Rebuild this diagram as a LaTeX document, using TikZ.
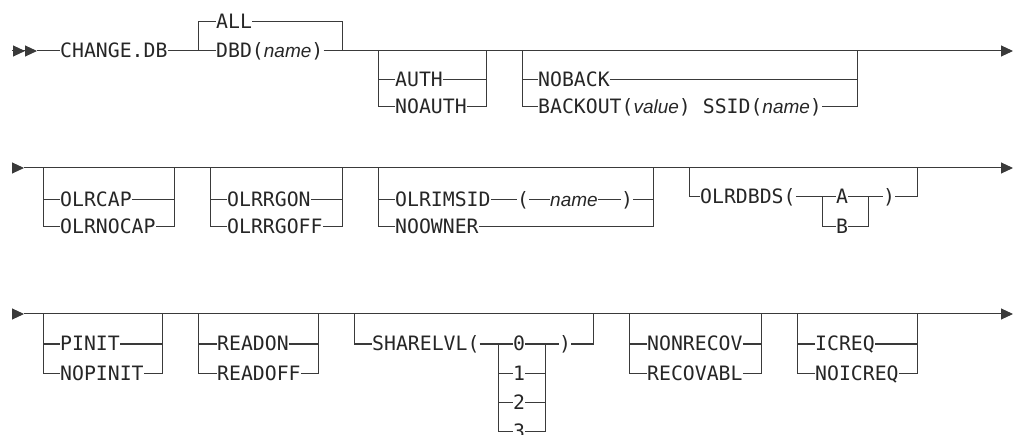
\documentclass[tikz,border=0pt]{standalone}
\usepackage{fontspec}
\usetikzlibrary{arrows.meta}
\newfontfamily\rrfont{DejaVu Sans Mono}
\newfontfamily\varfont{Liberation Sans}
\newcommand\vname[1]{{\varfont\itshape\fontsize{19}{22}\selectfont #1}}
\definecolor{linea}{HTML}{3A3A3A}
\definecolor{texto}{HTML}{262626}

\begin{document}
\begin{tikzpicture}[x=1pt, y=-1pt,
    kw/.style={font=\rrfont\fontsize{19.8}{24}\selectfont, text=texto, anchor=west,
               inner sep=0pt, text height=14pt, text depth=0pt},
    rr/.style={line width=1pt, draw=linea},
    fin/.style={rr, -{Triangle[length=12pt,width=11pt]}},
    inicio/.style={rr, -{Triangle[length=12pt,width=11pt]Triangle[length=12pt,width=11pt]}}
  ]
  \useasboundingbox (0,0) rectangle (1014,435);

  % Primera linea
  \coordinate (r1s) at (12,51);
  \coordinate (r1t) at (37,51);
  \coordinate (r1e) at (1013,51);
  \node[kw] (change) at (60,51) {CHANGE.DB};
  \node[kw] (all) at (216,22) {ALL};
  \node[kw] (dbd) at (216,51) {DBD(\vname{name})};
  \coordinate (db1) at (198,51);
  \coordinate (db2) at (342,51);
  \node[kw] (auth) at (395,80) {AUTH};
  \node[kw] (noauth) at (395,107) {NOAUTH};
  \coordinate (au1) at (378,51);
  \coordinate (au2) at (486,51);
  \node[kw] (noback) at (538,80) {NOBACK};
  \node[kw] (backout) at (538,107) {BACKOUT(\vname{value}) SSID(\vname{name})};
  \coordinate (bk1) at (522,51);
  \coordinate (bk2) at (857,51);

  \draw[inicio] (r1s) -- (r1t);
  \draw[rr] (r1t) -- (change.west);
  \draw[rr] (change.east) -- (dbd.west);
  \draw[rr] (db1) |- (all.west);
  \draw[rr] (all.east) -| (db2);
  \draw[fin] (dbd.east) -- (r1e);
  \draw[rr] (au1) |- (auth.west);
  \draw[rr] (au1) |- (noauth.west);
  \draw[rr] (auth.east) -| (au2);
  \draw[rr] (noauth.east) -| (au2);
  \draw[rr] (bk1) |- (noback.west);
  \draw[rr] (bk1) |- (backout.west);
  \draw[rr] (noback.east) -| (bk2);
  \draw[rr] (backout.east) -| (bk2);

  % Segunda linea
  \coordinate (r2s) at (12,168);
  \coordinate (r2t) at (24,168);
  \coordinate (r2e) at (1013,168);
  \node[kw] (olrcap) at (60,200) {OLRCAP};
  \node[kw] (olrnocap) at (60,227) {OLRNOCAP};
  \coordinate (cp1) at (43,168);
  \coordinate (cp2) at (174,168);
  \node[kw] (olrrgon) at (227,200) {OLRRGON};
  \node[kw] (olrrgoff) at (227,227) {OLRRGOFF};
  \coordinate (rg1) at (210,168);
  \coordinate (rg2) at (342,168);
  \node[kw] (olrimsid) at (395,200) {OLRIMSID};
  \node[kw] (ims-lp) at (517,200) {(};
  \node[kw] (ims-nm) at (550,200) {\vname{name}};
  \node[kw] (ims-rp) at (621,200) {)};
  \node[kw] (noowner) at (395,227) {NOOWNER};
  \coordinate (im1) at (378,168);
  \coordinate (im2) at (653,168);
  \node[kw] (olrdbds) at (700,197) {OLRDBDS(};
  \node[kw] (dsa) at (836,197) {A};
  \node[kw] (dsb) at (836,227) {B};
  \node[kw] (ds-rp) at (883,197) {)};
  \coordinate (ds1) at (689,168);
  \coordinate (ds2) at (917,168);
  \coordinate (dsi1) at (822,197);
  \coordinate (dsi2) at (868,197);

  \draw[fin] (r2s) -- (r2t);
  \draw[fin] (r2t) -- (r2e);
  \draw[rr] (cp1) |- (olrcap.west);
  \draw[rr] (cp1) |- (olrnocap.west);
  \draw[rr] (olrcap.east) -| (cp2);
  \draw[rr] (olrnocap.east) -| (cp2);
  \draw[rr] (rg1) |- (olrrgon.west);
  \draw[rr] (rg1) |- (olrrgoff.west);
  \draw[rr] (olrrgon.east) -| (rg2);
  \draw[rr] (olrrgoff.east) -| (rg2);
  \draw[rr] (im1) |- (olrimsid.west);
  \draw[rr] (im1) |- (noowner.west);
  \draw[rr] (olrimsid.east) -- (ims-lp.west);
  \draw[rr] (ims-lp.east) -- (ims-nm.west);
  \draw[rr] (ims-nm.east) -- (ims-rp.west);
  \draw[rr] (ims-rp.east) -| (im2);
  \draw[rr] (noowner.east) -| (im2);
  \draw[rr] (ds1) |- (olrdbds.west);
  \draw[rr] (olrdbds.east) -- (dsa.west);
  \draw[rr] (dsi1) |- (dsb.west);
  \draw[rr] (dsa.east) -- (ds-rp.west);
  \draw[rr] (dsb.east) -| (dsi2);
  \draw[rr] (ds-rp.east) -| (ds2);

  % Tercera linea
  \coordinate (r3s) at (12,314);
  \coordinate (r3t) at (24,314);
  \coordinate (r3e) at (1013,314);
  \node[kw] (pinit) at (60,344) {PINIT};
  \node[kw] (nopinit) at (60,373) {NOPINIT};
  \coordinate (pi1) at (43,314);
  \coordinate (pi2) at (162,314);
  \node[kw] (readon) at (217,344) {READON};
  \node[kw] (readoff) at (217,373) {READOFF};
  \coordinate (rd1) at (198,314);
  \coordinate (rd2) at (318,314);
  \node[kw] (sharelvl) at (372,344) {SHARELVL(};
  \node[kw] (sh-rp) at (559,344) {)};
  \coordinate (sh1) at (354,314);
  \coordinate (sh2) at (593,314);
  \coordinate (shi1) at (498,344);
  \coordinate (shi2) at (545,344);
  \node[kw] (nonrecov) at (647,344) {NONRECOV};
  \node[kw] (recovabl) at (647,373) {RECOVABL};
  \coordinate (rc1) at (629,314);
  \coordinate (rc2) at (761,314);
  \node[kw] (icreq) at (815,344) {ICREQ};
  \node[kw] (noicreq) at (815,373) {NOICREQ};
  \coordinate (ic1) at (797,314);
  \coordinate (ic2) at (917,314);

  \draw[fin] (r3s) -- (r3t);
  \draw[fin] (r3t) -- (r3e);
  \draw[rr] (pi1) |- (pinit.west);
  \draw[rr] (pi1) |- (nopinit.west);
  \draw[rr] (pinit.east) -| (pi2);
  \draw[rr] (nopinit.east) -| (pi2);
  \draw[rr] (rd1) |- (readon.west);
  \draw[rr] (rd1) |- (readoff.west);
  \draw[rr] (readon.east) -| (rd2);
  \draw[rr] (readoff.east) -| (rd2);
  \draw[rr] (sh1) |- (sharelvl.west);
  \draw[rr] (sharelvl.east) -- (shi1);
  \foreach \v in {0,1,2,3} {
    \node[kw] (lvl\v) at (513,344+29*\v) {\v};
    \draw[rr] (shi1) |- (lvl\v.west);
    \draw[rr] (lvl\v.east) -| (shi2);
  }
  \draw[rr] (shi2) -- (sh-rp.west);
  \draw[rr] (sh-rp.east) -| (sh2);
  \draw[rr] (rc1) |- (nonrecov.west);
  \draw[rr] (rc1) |- (recovabl.west);
  \draw[rr] (nonrecov.east) -| (rc2);
  \draw[rr] (recovabl.east) -| (rc2);
  \draw[rr] (ic1) |- (icreq.west);
  \draw[rr] (ic1) |- (noicreq.west);
  \draw[rr] (icreq.east) -| (ic2);
  \draw[rr] (noicreq.east) -| (ic2);
\end{tikzpicture}
\end{document}
